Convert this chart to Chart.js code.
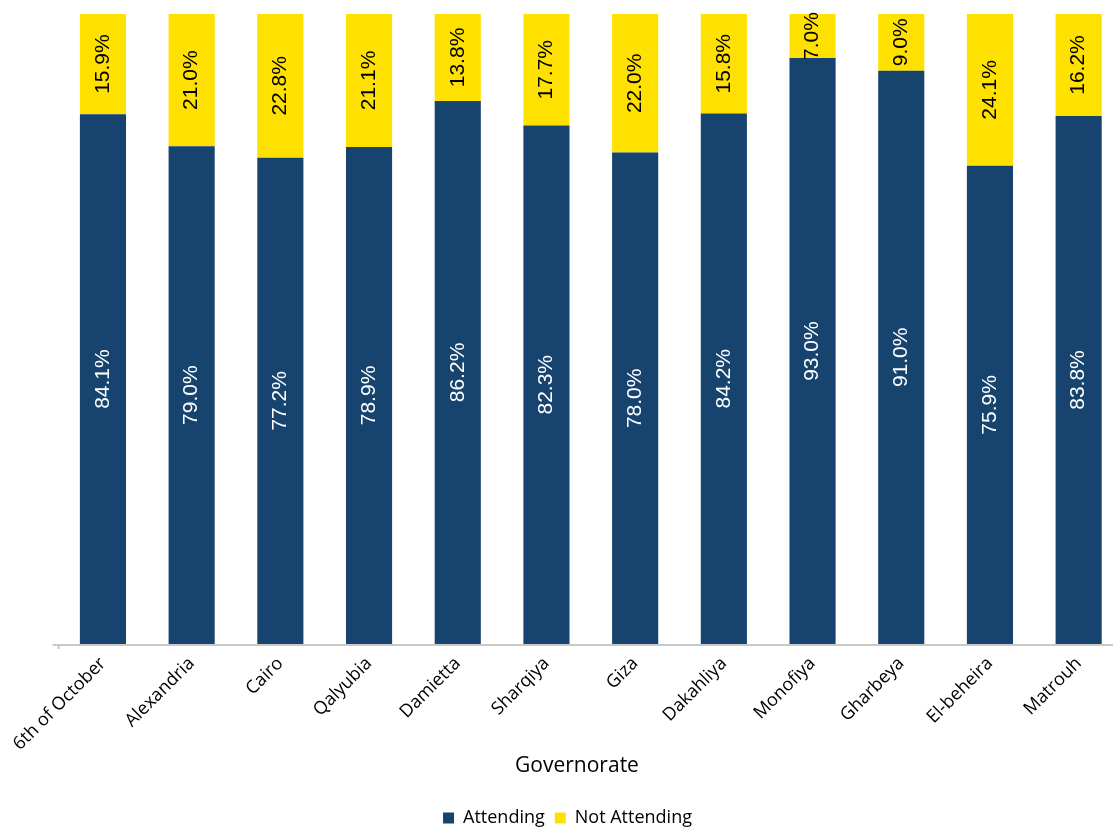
<!DOCTYPE html>
<html>
<head>
<meta charset="utf-8">
<script src="https://cdn.jsdelivr.net/npm/chart.js@4.4.1/dist/chart.umd.min.js"></script>
<style>
  html, body { margin: 0; padding: 0; background: #ffffff; overflow: hidden; }
  #wrap { position: relative; width: 1123px; height: 837px; }
</style>
</head>
<body>
<div id="wrap"><canvas id="chart"></canvas></div>
<script>
// Share of students attending / not attending, by governorate (percent)
const governorates = ["6th of October", "Alexandria", "Cairo", "Qalyubia", "Damietta", "Sharqiya",
                      "Giza", "Dakahliya", "Monofiya", "Gharbeya", "El-beheira", "Matrouh"];
const attending    = [84.1, 79.0, 77.2, 78.9, 86.2, 82.3, 78.0, 84.2, 93.0, 91.0, 75.9, 83.8];
const notAttending = [15.9, 21.0, 22.8, 21.1, 13.8, 17.7, 22.0, 15.8, 7.0, 9.0, 24.1, 16.2];
const seriesNames  = ["Attending", "Not Attending"];
const axisTitle    = "Governorate";

const BLUE = "#17446F";
const YELLOW = "#FFE100";
const LABEL_FONT = "'Open Sans', 'Lato', sans-serif";

// Writes each segment's value vertically in the middle of the segment
const segmentLabels = {
  id: "segmentLabels",
  afterDatasetsDraw(chart) {
    const ctx = chart.ctx;
    chart.data.datasets.forEach((ds, di) => {
      const meta = chart.getDatasetMeta(di);
      if (meta.hidden) return;
      meta.data.forEach((bar, i) => {
        const v = ds.data[i];
        const yc = (bar.y + bar.base) / 2;
        ctx.save();
        ctx.translate(bar.x, yc);
        ctx.rotate(-Math.PI / 2);
        ctx.font = "21px 'Liberation Sans', Arial, sans-serif";
        ctx.fillStyle = ds.labelColor;
        ctx.textAlign = "center";
        ctx.textBaseline = "middle";
        ctx.fillText(v.toFixed(1) + "%", 0, 0);
        ctx.restore();
      });
    });
  }
};

// Category axis line (runs slightly past the first category) and the axis title
const axisDecor = {
  id: "axisDecor",
  afterDraw(chart) {
    const ctx = chart.ctx;
    const area = chart.chartArea;
    ctx.save();
    ctx.strokeStyle = "#C8C8C8";
    ctx.lineWidth = 2;
    ctx.beginPath();
    ctx.moveTo(area.left - 6, area.bottom + 1);
    ctx.lineTo(area.right, area.bottom + 1);
    ctx.stroke();
    ctx.beginPath();
    ctx.moveTo(area.left, area.bottom + 1);
    ctx.lineTo(area.left, area.bottom + 5);
    ctx.stroke();
    ctx.fillStyle = "#000000";
    ctx.font = "21px " + LABEL_FONT;
    ctx.textAlign = "center";
    ctx.textBaseline = "middle";
    ctx.fillText(axisTitle, 577, 766);
    ctx.restore();
  }
};

new Chart(document.getElementById("chart"), {
  type: "bar",
  data: {
    labels: governorates,
    datasets: [
      { label: seriesNames[0], data: attending, backgroundColor: BLUE, labelColor: "#ffffff" },
      { label: seriesNames[1], data: notAttending, backgroundColor: YELLOW, labelColor: "#000000" }
    ]
  },
  options: {
    responsive: true,
    maintainAspectRatio: false,
    animation: false,
    layout: { padding: { left: 12, top: 14, right: 0, bottom: 0 } },
    datasets: { bar: { categoryPercentage: 1.0, barPercentage: 0.52 } },
    scales: {
      x: {
        stacked: true,
        grid: { display: false, drawTicks: false },
        border: { display: false },
        ticks: {
          minRotation: 45, maxRotation: 45, padding: 9,
          color: "#000000",
          font: { family: LABEL_FONT, size: 18 }
        },
        afterFit(scale) {
          scale.paddingLeft = 0;
          scale.paddingRight = 0;
          scale.height = 155;
        }
      },
      y: {
        stacked: true, min: 0, max: 100, display: true,
        grid: { display: false, drawTicks: false },
        border: { display: false },
        ticks: { display: false },
        afterFit(scale) {
          scale.width = 46.6;
          scale.paddingTop = 0;
          scale.paddingBottom = 0;
        }
      }
    },
    plugins: {
      legend: {
        position: "bottom",
        labels: {
          boxWidth: 11, boxHeight: 11, padding: 10, color: "#000000",
          font: { family: LABEL_FONT, size: 18 }
        }
      },
      tooltip: { enabled: false }
    }
  },
  plugins: [segmentLabels, axisDecor]
});
</script>
</body>
</html>
